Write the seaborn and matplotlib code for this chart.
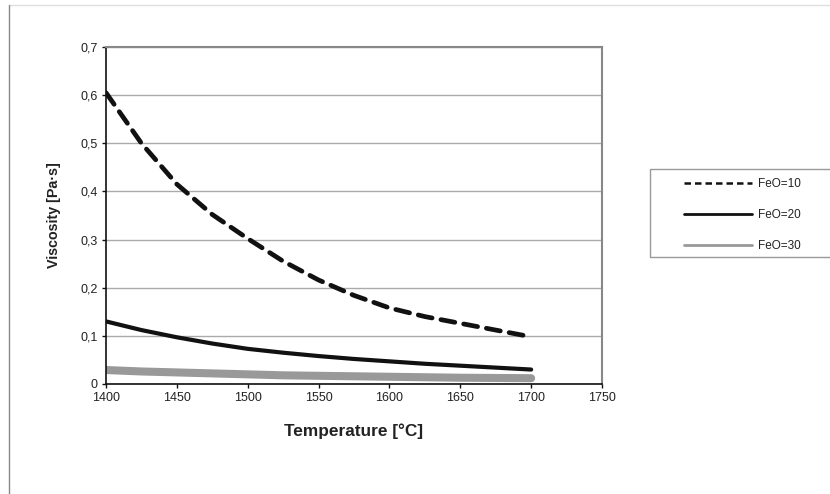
import numpy as np
import pandas as pd
import matplotlib
matplotlib.use("Agg")
import matplotlib.pyplot as plt
import seaborn as sns
from matplotlib.lines import Line2D
from matplotlib.patches import Rectangle
from matplotlib.ticker import FuncFormatter

# values
temperature = [1400, 1425, 1450, 1475, 1500, 1525, 1550, 1575, 1600, 1625, 1650, 1675, 1700]
feo10 = [0.605, 0.500, 0.415, 0.352, 0.302, 0.255, 0.216, 0.184, 0.158, 0.140, 0.126, 0.112, 0.098]
feo20 = [0.130, 0.112, 0.097, 0.084, 0.073, 0.065, 0.058, 0.052, 0.047, 0.042, 0.038, 0.034, 0.030]
feo30 = [0.029, 0.026, 0.024, 0.022, 0.020, 0.018, 0.017, 0.016, 0.015, 0.014, 0.013, 0.0125, 0.012]
series_names = ["FeO=10", "FeO=20", "FeO=30"]
x_ticks = [1400, 1450, 1500, 1550, 1600, 1650, 1700, 1750]
y_ticks = [0, 0.1, 0.2, 0.3, 0.4, 0.5, 0.6, 0.7]

df = pd.DataFrame({"Temperature": temperature, "FeO=10": feo10,
                   "FeO=20": feo20, "FeO=30": feo30})
long_df = df.melt(id_vars="Temperature", var_name="series", value_name="Viscosity")

sns.set_theme(style="white")
plt.rcParams["font.family"] = ["Liberation Sans", "DejaVu Sans"]

fig = plt.figure(figsize=(8.3, 4.94), dpi=100)
ax = fig.add_axes([0.1277, 0.2227, 0.5976, 0.6822])

styles = {
    "FeO=10": dict(color="#111111", lw=3.4, dashes=(3.0, 1.9)),
    "FeO=20": dict(color="#111111", lw=3.0, dashes=None),
    "FeO=30": dict(color="#999999", lw=5.8, dashes=None),
}
for name in series_names:
    st = styles[name]
    sub = long_df[long_df["series"] == name]
    line_kw = dict(color=st["color"], linewidth=st["lw"], solid_capstyle="round",
                   dash_capstyle="round")
    if st["dashes"] is not None:
        line_kw["dashes"] = st["dashes"]
    sns.lineplot(data=sub, x="Temperature", y="Viscosity", ax=ax, label=name, **line_kw)

ax.set_xlim(1400, 1750)
ax.set_ylim(0, 0.7)
ax.set_xticks(x_ticks)
ax.set_yticks(y_ticks)
ax.yaxis.set_major_formatter(FuncFormatter(lambda v, p: "0" if v == 0 else f"{v:.1f}".replace(".", ",")))
ax.grid(axis="y", color="#aaaaaa", linewidth=1.0)
ax.set_axisbelow(True)
for side in ["left", "bottom"]:
    ax.spines[side].set_color("#111111")
    ax.spines[side].set_linewidth(1.2)
for side in ["top", "right"]:
    ax.spines[side].set_color("#888888")
    ax.spines[side].set_linewidth(1.5)
ax.tick_params(axis="both", which="major", direction="out", length=3, width=1,
               color="#111111", labelsize=9, labelcolor="#222222", pad=3,
               bottom=True, left=True)
ax.set_xlabel("Temperature [°C]", fontsize=12.4, fontweight="bold", color="#222222", labelpad=14)
ax.set_ylabel("Viscosity [Pa·s]", fontsize=10.3, fontweight="bold", color="#222222", labelpad=14)

# legend with custom handles (thin lines like the original), frame drawn separately
handles = [
    Line2D([], [], color="#111111", lw=1.8, dashes=(2.6, 1.6)),
    Line2D([], [], color="#111111", lw=2.0),
    Line2D([], [], color="#999999", lw=2.0),
]
leg = ax.legend(handles, series_names, loc="upper left",
                bbox_to_anchor=(684 / 830, 1 - 178 / 494), bbox_transform=fig.transFigure,
                frameon=False, fontsize=8.5, handlelength=5.8,
                handletextpad=0.5, labelspacing=1.62, borderpad=0, borderaxespad=0)
for t in leg.get_texts():
    t.set_color("#222222")
fig.add_artist(Rectangle((650 / 830, 1 - 257 / 494), 0.25, 88 / 494,
                         transform=fig.transFigure, fill=False,
                         edgecolor="#999999", linewidth=1.0))

# outer chart-area border
fig.add_artist(Line2D([0.011, 1.0], [0.99, 0.99], transform=fig.transFigure,
                      color="#e0e0e0", lw=1.0))
fig.add_artist(Line2D([0.011, 0.011], [0.0, 0.99], transform=fig.transFigure,
                      color="#888888", lw=1.0))

fig.savefig("out.png", dpi=100)
